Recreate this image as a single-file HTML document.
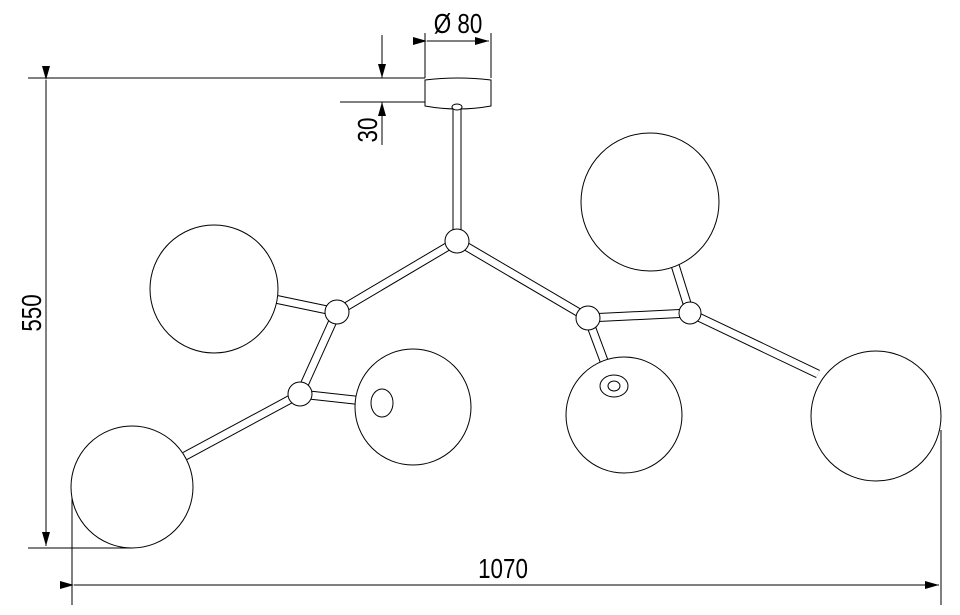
<!DOCTYPE html>
<html><head><style>body{margin:0;background:#fff}svg{display:block}</style></head><body>
<svg width="960" height="615" viewBox="0 0 960 615" xmlns="http://www.w3.org/2000/svg" font-family="Liberation Sans, sans-serif">
<defs><marker id="a" markerWidth="14" markerHeight="8" refX="14" refY="4" orient="auto" markerUnits="userSpaceOnUse"><path d="M0,0 L14,4 L0,8 Z" fill="#000"/></marker></defs>
<g stroke="#000" stroke-width="1" fill="none">
<line x1="28" y1="78" x2="425" y2="78"/>
<line x1="340" y1="102" x2="425" y2="102"/>
<line x1="28" y1="548" x2="132" y2="548"/>
<line x1="46" y1="80" x2="46" y2="546" marker-start="url(#a)" marker-end="url(#a)"/>
<line x1="382" y1="35" x2="382" y2="78" marker-end="url(#a)"/>
<line x1="382" y1="145" x2="382" y2="102" marker-end="url(#a)"/>
<line x1="425" y1="33" x2="425" y2="78"/>
<line x1="491" y1="33" x2="491" y2="78"/>
<line x1="427" y1="41" x2="489" y2="41" marker-start="url(#a)" marker-end="url(#a)"/>
<line x1="72" y1="480" x2="72" y2="605"/>
<line x1="941" y1="430" x2="941" y2="605"/>
<line x1="74" y1="585" x2="939" y2="585" marker-start="url(#a)" marker-end="url(#a)"/>
</g>
<g fill="#000" font-size="28">
<text transform="translate(458,33) scale(0.8,1)" text-anchor="middle">Ø 80</text>
<text transform="translate(503,578) scale(0.8,1)" text-anchor="middle">1070</text>
<text transform="translate(41,313) rotate(-90) scale(0.8,1)" text-anchor="middle">550</text>
<text transform="translate(377,130) rotate(-90) scale(0.8,1)" text-anchor="middle">30</text>
</g>
<g stroke-linecap="butt">
<g stroke="#000" stroke-width="9">
<line x1="457" y1="105" x2="457" y2="241"/>
<line x1="457" y1="241" x2="337" y2="312"/>
<line x1="337" y1="312" x2="270" y2="298"/>
<line x1="337" y1="312" x2="300" y2="394"/>
<line x1="300" y1="394" x2="185" y2="456"/>
<line x1="300" y1="394" x2="382" y2="403"/>
<line x1="457" y1="241" x2="588" y2="318"/>
<line x1="588" y1="318" x2="613" y2="385"/>
<line x1="588" y1="318" x2="690" y2="313"/>
<line x1="690" y1="313" x2="675" y2="265"/>
<line x1="690" y1="313" x2="818" y2="374"/>
</g>
<g stroke="#fff" stroke-width="7">
<line x1="457" y1="105" x2="457" y2="241"/>
<line x1="457" y1="241" x2="337" y2="312"/>
<line x1="337" y1="312" x2="270" y2="298"/>
<line x1="337" y1="312" x2="300" y2="394"/>
<line x1="300" y1="394" x2="185" y2="456"/>
<line x1="300" y1="394" x2="382" y2="403"/>
<line x1="457" y1="241" x2="588" y2="318"/>
<line x1="588" y1="318" x2="613" y2="385"/>
<line x1="588" y1="318" x2="690" y2="313"/>
<line x1="690" y1="313" x2="675" y2="265"/>
<line x1="690" y1="313" x2="818" y2="374"/>
</g>
</g>
<g stroke="#000" stroke-width="1" fill="#fff">
<path d="M425,80 Q458,76 491,80 L491,106 Q458,112 425,106 Z"/>
<ellipse cx="457" cy="107" rx="5" ry="3"/>
<circle cx="214" cy="289" r="64"/>
<circle cx="132" cy="487" r="61"/>
<circle cx="413" cy="407" r="58"/>
<ellipse cx="382" cy="403" rx="11" ry="14"/>
<circle cx="650" cy="202" r="69"/>
<circle cx="624" cy="415" r="58"/>
<ellipse cx="614" cy="386" rx="14" ry="11"/>
<circle cx="876" cy="416" r="65"/>
<circle cx="457" cy="241" r="12"/>
<circle cx="337" cy="312" r="12"/>
<circle cx="300" cy="394" r="12"/>
<circle cx="588" cy="318" r="12"/>
<circle cx="690" cy="313" r="11"/>
</g>
<g stroke="#000" stroke-width="1" fill="none">
<ellipse cx="614" cy="386" rx="6" ry="5"/>
</g>
</svg>
</body></html>
